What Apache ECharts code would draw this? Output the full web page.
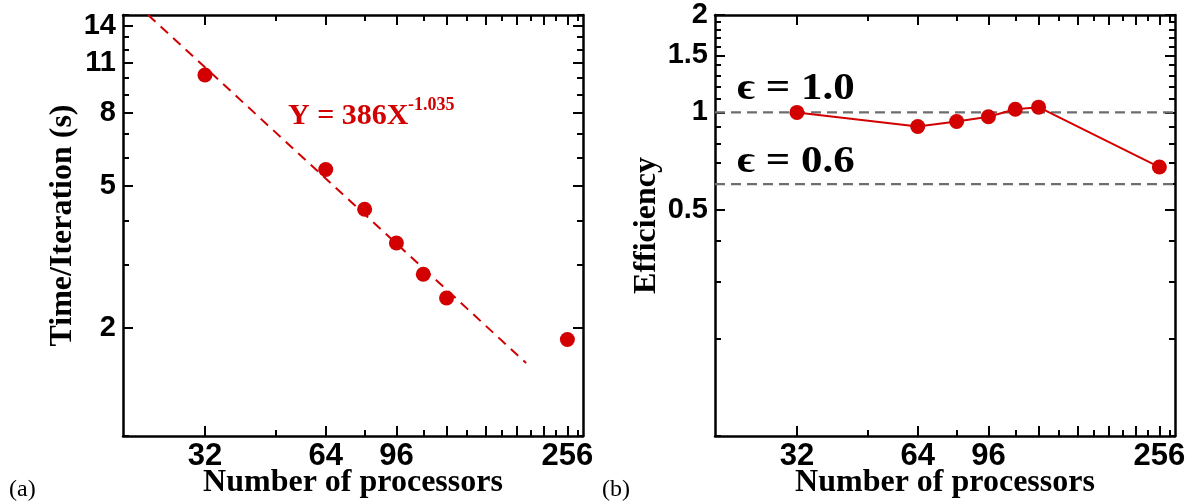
<!DOCTYPE html>
<html><head><meta charset="utf-8">
<script src="https://cdn.jsdelivr.net/npm/echarts@6/dist/echarts.min.js"></script>
<style>html,body{margin:0;padding:0;background:#fff}#c{width:1194px;height:503px}</style>
</head><body><div id="c"></div>
<script>
// ---- data ----
const processors = [32, 64, 80, 96, 112, 128, 256];
const timePerIter = [10.2, 5.55, 4.3, 3.46, 2.83, 2.43, 1.86];
const efficiency = [1.0, 0.905, 0.937, 0.97, 1.023, 1.038, 0.678];
const fitLineX = [23.1, 202];
const fitLineY = [15, 1.6];
const effRefLevels = [1.0, 0.6];
const xRange = [20, 280];
const timeRange = [1, 15];
const effRange = [0.1, 2];
const xMajorTicks = [32, 64, 96, 128, 160, 192, 224, 256];
const xMinorTicks = [32, 48, 64, 80, 96, 112, 128, 144, 160, 176, 192, 208, 224, 240, 256, 272];
const xTickLabels = [32, 64, 96, 256];
const timeMajorTicks = [2, 5, 8, 11, 14];
const timeMinorTicks = [1, 2, 3, 4, 5, 6, 7, 8, 9, 10, 11, 12, 13, 14, 15];
const timeTickLabels = [2, 5, 8, 11, 14];
const effMajorTicks = [0.5, 1, 1.5, 2];
const effMinorTicks = [0.1, 0.2, 0.3, 0.4, 0.5, 0.6, 0.7, 0.8, 0.9, 1.0, 1.1, 1.2, 1.3, 1.4, 1.5, 1.6, 1.7, 1.8, 1.9, 2.0];
const effTickLabels = [0.5, 1, 1.5, 2];
const fitText = 'Y = 386X';
const fitExpText = '-1.035';
const refTexts = ['\u03F5 = 1.0', '\u03F5 = 0.6'];

// ---- helpers ----
const lx = v => Math.log2(v);
const ly = v => Math.log10(v);
const RED = '#d20000';
const BLACK = '#000';
const labelFont = { fontFamily: '"Liberation Sans", Arial, sans-serif', fontWeight: 'bold', color: BLACK };
const nameFont = { fontFamily: '"Liberation Serif", "Times New Roman", serif', fontWeight: 'bold', fontSize: 32, color: BLACK };

const GRIDS = [
  { left: 123, top: 15, width: 460, height: 421, outerBoundsMode: 'none' },
  { left: 715, top: 15, width: 460, height: 421, outerBoundsMode: 'none' }
];

function xAxes(g) {
  const base = { type: 'value', gridIndex: g, min: lx(xRange[0]), max: lx(xRange[1]), splitLine: { show: false } };
  const line = { show: true, onZero: false, lineStyle: { color: BLACK, width: 2.5 } };
  return [
    Object.assign({}, base, {
      position: 'bottom', axisLine: line,
      axisTick: { show: true, inside: true, length: 10, lineStyle: { color: BLACK, width: 2 }, customValues: xMajorTicks.map(lx) },
      axisLabel: Object.assign({ show: true, fontSize: 31, margin: 5, customValues: xTickLabels.map(lx),
        formatter: v => String(Math.round(Math.pow(2, v))) }, labelFont),
      name: 'Number of processors', nameLocation: 'middle', nameGap: 31, nameMoveOverlap: false, nameTextStyle: nameFont
    }),
    Object.assign({}, base, {
      position: 'bottom', axisLine: { show: false, onZero: false },
      axisTick: { show: true, inside: true, length: 6, lineStyle: { color: BLACK, width: 2 }, customValues: xMinorTicks.map(lx) },
      axisLabel: { show: false }
    }),
    Object.assign({}, base, {
      position: 'top', axisLine: line,
      axisTick: { show: true, inside: true, length: 10, lineStyle: { color: BLACK, width: 2 }, customValues: xMajorTicks.map(lx) },
      axisLabel: { show: false }
    }),
    Object.assign({}, base, {
      position: 'top', axisLine: { show: false, onZero: false },
      axisTick: { show: true, inside: true, length: 6, lineStyle: { color: BLACK, width: 2 }, customValues: xMinorTicks.map(lx) },
      axisLabel: { show: false }
    })
  ];
}

function yAxes(g, range, major, minor, labels, fmt, name, nameGap) {
  const base = { type: 'value', gridIndex: g, min: ly(range[0]), max: ly(range[1]), splitLine: { show: false } };
  const line = { show: true, onZero: false, lineStyle: { color: BLACK, width: 2.5 } };
  return [
    Object.assign({}, base, {
      position: 'left', axisLine: line,
      axisTick: { show: true, inside: true, length: 10, lineStyle: { color: BLACK, width: 2 }, customValues: major.map(ly) },
      axisLabel: Object.assign({ show: true, fontSize: 29, margin: 7, customValues: labels.map(ly), formatter: fmt }, labelFont),
      name: name, nameLocation: 'middle', nameGap: nameGap, nameTextStyle: nameFont
    }),
    Object.assign({}, base, {
      position: 'left', axisLine: { show: false, onZero: false },
      axisTick: { show: true, inside: true, length: 6, lineStyle: { color: BLACK, width: 2 }, customValues: minor.map(ly) },
      axisLabel: { show: false }
    }),
    Object.assign({}, base, {
      position: 'right', axisLine: line,
      axisTick: { show: true, inside: true, length: 10, lineStyle: { color: BLACK, width: 2 }, customValues: major.map(ly) },
      axisLabel: { show: false }
    }),
    Object.assign({}, base, {
      position: 'right', axisLine: { show: false, onZero: false },
      axisTick: { show: true, inside: true, length: 6, lineStyle: { color: BLACK, width: 2 }, customValues: minor.map(ly) },
      axisLabel: { show: false }
    })
  ];
}

const timeFmt = v => String(Math.round(Math.pow(10, v)));
const effFmt = v => String(Math.round(Math.pow(10, v) * 10) / 10);

const series = [
  {
    type: 'line', xAxisIndex: 0, yAxisIndex: 0, symbol: 'none', silent: true, z: 2,
    data: fitLineX.map((x, i) => [lx(x), ly(fitLineY[i])]),
    lineStyle: { color: RED, width: 2, type: [10, 7] }
  },
  {
    type: 'scatter', xAxisIndex: 0, yAxisIndex: 0, symbol: 'circle', symbolSize: 15, z: 3,
    data: processors.map((x, i) => [lx(x), ly(timePerIter[i])]),
    itemStyle: { color: RED, opacity: 1 }
  }
];
effRefLevels.forEach(level => {
  series.push({
    type: 'line', xAxisIndex: 4, yAxisIndex: 4, symbol: 'none', silent: true, z: 2,
    data: [[lx(xRange[0]), ly(level)], [lx(xRange[1]), ly(level)]],
    lineStyle: { color: '#6e6e6e', width: 2.2, type: [10, 6] }
  });
});
series.push({
  type: 'line', xAxisIndex: 4, yAxisIndex: 4, symbol: 'circle', symbolSize: 15, z: 3,
  data: processors.map((x, i) => [lx(x), ly(efficiency[i])]),
  lineStyle: { color: RED, width: 2 }, itemStyle: { color: RED, opacity: 1 }
});

const serifBold = '"Liberation Serif", "DejaVu Serif", serif';
const option = {
  animation: false,
  backgroundColor: '#fff',
  grid: GRIDS,
  xAxis: [].concat(xAxes(0), xAxes(1)),
  yAxis: [].concat(
    yAxes(0, timeRange, timeMajorTicks, timeMinorTicks, timeTickLabels, timeFmt, 'Time/Iteration (s)', 44),
    yAxes(1, effRange, effMajorTicks, effMinorTicks, effTickLabels, effFmt, 'Efficiency', 52)
  ),
  series: series,
  graphic: [
    { type: 'text', x: 288, y: 116, style: { text: fitText, fill: RED, font: 'bold 30px ' + serifBold, align: 'left', verticalAlign: 'middle' } },
    { type: 'text', x: 408, y: 105, style: { text: fitExpText, fill: RED, font: 'bold 18px ' + serifBold, align: 'left', verticalAlign: 'middle' } },
    { type: 'text', x: 737, y: 89, scaleX: 1.13, style: { text: refTexts[0], fill: BLACK, font: 'bold 38px ' + serifBold, align: 'left', verticalAlign: 'middle' } },
    { type: 'text', x: 737, y: 162, scaleX: 1.13, style: { text: refTexts[1], fill: BLACK, font: 'bold 38px ' + serifBold, align: 'left', verticalAlign: 'middle' } },
    { type: 'text', x: 9, y: 490, style: { text: '(a)', fill: BLACK, font: '24px ' + serifBold, align: 'left', verticalAlign: 'middle' } },
    { type: 'text', x: 602, y: 490, style: { text: '(b)', fill: BLACK, font: '24px ' + serifBold, align: 'left', verticalAlign: 'middle' } }
  ]
};

const chart = echarts.init(document.getElementById('c'), null, { renderer: 'canvas' });
chart.setOption(option);
</script>
</body></html>
